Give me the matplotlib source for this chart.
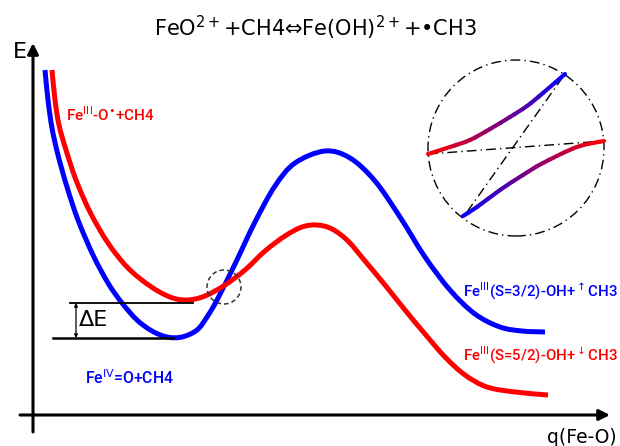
import numpy as np
import matplotlib
matplotlib.use("Agg")
import matplotlib.pyplot as plt
from matplotlib.patches import Circle, PathPatch
from matplotlib.path import Path
from matplotlib.collections import LineCollection
from matplotlib.colors import to_rgb

# ---- data (reaction coordinate q, energy E) ----
blue_q = [12, 15, 19, 25, 34, 45, 60, 75, 89, 104, 119, 134, 149, 164, 174, 184, 202, 222, 242,
          262, 292, 317, 342, 367, 392, 417, 442, 467, 489, 512]
blue_E = [345, 315, 287, 260, 228, 195, 160, 132, 112, 95, 84, 78, 78, 85, 98, 115, 151, 193,
          229, 252, 264, 257, 234, 198, 158, 125, 101, 88, 84, 83]

red_q = [19, 22, 26, 33, 43, 57, 75, 95, 117, 137, 154, 172, 192, 212, 232, 252, 269, 284,
         299, 315, 332, 352, 372, 392, 412, 432, 454, 482, 515]
red_E = [345, 315, 290, 265, 235, 203, 172, 147, 129, 118, 115, 119, 130, 145, 164, 179, 188,
         190, 186, 174, 154, 130, 105, 81, 58, 40, 28, 23, 20]

# inset (magnified crossing region)
inset_up_q = [395, 417, 437, 457, 477, 494, 510, 532]
inset_up_E = [261, 268, 275, 286, 298, 309, 322, 341]
inset_lo_q = [430, 444, 467, 490, 510, 544, 571]
inset_lo_E = [199, 208, 225, 240, 252, 268, 274]
inset_diab1_q = [395, 571]
inset_diab1_E = [261, 274]
inset_diab2_q = [434, 532]
inset_diab2_E = [203, 341]

E_min_red = 112
E_min_blue = 77

title = r"FeO$^{2+}$+CH4⇔Fe(OH)$^{2+}$+•CH3"
lab_red_left = r"Fe$^{\mathrm{III}}$-O$^{\bullet}$+CH4"
lab_blue_left = r"Fe$^{\mathrm{IV}}$=O+CH4"
lab_blue_right = r"Fe$^{\mathrm{III}}$(S=3/2)-OH+$^{\uparrow}$CH3"
lab_red_right = r"Fe$^{\mathrm{III}}$(S=5/2)-OH+$^{\downarrow}$CH3"

fig = plt.figure(figsize=(6.2, 4.46), dpi=100)
ax = fig.add_axes([0, 0, 1, 1])
ax.set_xlim(-33, 587)
ax.set_ylim(-31, 415)
ax.axis("off")

BLUE = "#0000ff"
RED = "#ff0000"
LABEL_FONT = ["Roboto", "DejaVu Sans"]


def smooth_path(xs, ys):
    """Catmull-Rom curve through the points, expressed as cubic Bezier path."""
    P = np.column_stack([xs, ys]).astype(float)
    Pe = np.vstack([P[0], P, P[-1]])
    verts = [P[0]]
    codes = [Path.MOVETO]
    for i in range(1, len(Pe) - 2):
        p0, p1, p2, p3 = Pe[i - 1], Pe[i], Pe[i + 1], Pe[i + 2]
        c1 = p1 + (p2 - p0) / 6.0
        c2 = p2 - (p3 - p1) / 6.0
        verts += [c1, c2, p2]
        codes += [Path.CURVE4] * 3
    return Path(verts, codes)


def smooth_curve(xs, ys, color, lw):
    ax.add_patch(PathPatch(smooth_path(xs, ys), fill=False, ec=color, lw=lw,
                           capstyle="butt", joinstyle="round"))


def gradient_curve(xs, ys, c0, c1, lw):
    poly = smooth_path(xs, ys).to_polygons(closed_only=False)[0]
    pts = poly.reshape(-1, 1, 2)
    segs = np.concatenate([pts[:-1], pts[1:]], axis=1)
    d = np.r_[0, np.cumsum(np.hypot(*np.diff(poly, axis=0).T))]
    t = (d[:-1] + d[1:]) / 2 / d[-1]
    a, b = np.array(to_rgb(c0)), np.array(to_rgb(c1))
    cols = [tuple(a + (b - a) * ti) for ti in t]
    ax.add_collection(LineCollection(segs, colors=cols, linewidths=lw,
                                     capstyle="round", joinstyle="round"))


# axes arrows
ax.annotate("", xy=(0, 372), xytext=(0, -17),
            arrowprops=dict(arrowstyle="-|>", lw=2.2, color="black", mutation_scale=16,
                            shrinkA=0, shrinkB=0))
ax.annotate("", xy=(577, 0), xytext=(-13, 0),
            arrowprops=dict(arrowstyle="-|>", lw=2.2, color="black", mutation_scale=16,
                            shrinkA=0, shrinkB=0))

# main curves
smooth_curve(blue_q, blue_E, BLUE, 3.6)
smooth_curve(red_q, red_E, RED, 3.6)

# Delta E markers
ax.plot([37, 160], [E_min_red, E_min_red], color="black", lw=1.3)
ax.plot([20, 140], [E_min_blue, E_min_blue], color="black", lw=1.8)
ax.annotate("", xy=(43, E_min_red), xytext=(43, E_min_blue),
            arrowprops=dict(arrowstyle="<|-|>", lw=0.9, color="black", mutation_scale=5,
                            shrinkA=0, shrinkB=0))
ax.text(60, (E_min_red + E_min_blue) / 2, "ΔE", fontsize=16, ha="center", va="center")

# small dashed circle at crossing
ax.add_patch(Circle((191, 128), 17, fill=False, ec="#333333", lw=1.1, ls=(0, (3, 2))))

# inset circle
ax.add_patch(Circle((483, 267), 88, fill=False, ec="black", lw=1.0,
                    ls=(0, (7, 3, 1, 3))))

ax.plot(inset_diab1_q, inset_diab1_E, color="black", lw=1.0, ls=(0, (7, 3, 1, 3)))
ax.plot(inset_diab2_q, inset_diab2_E, color="black", lw=1.0, ls=(0, (7, 3, 1, 3)))
gradient_curve(inset_up_q, inset_up_E, RED, BLUE, 3.0)
gradient_curve(inset_lo_q, inset_lo_E, BLUE, RED, 3.0)

# texts
ax.text(282, 387, title, fontsize=15, ha="center", va="center")
ax.text(-13, 363, "E", fontsize=16, ha="center", va="center")
ax.text(514, -28, "q(Fe-O)", fontsize=13.5, ha="left", va="baseline")
ax.text(33, 300, lab_red_left, fontsize=11, color=RED, ha="left", va="center",
        family=LABEL_FONT, weight="medium")
ax.text(52, 37, lab_blue_left, fontsize=11.3, color=BLUE, ha="left", va="center",
        family=LABEL_FONT, weight="medium")
ax.text(430, 124, lab_blue_right, fontsize=10.8, color=BLUE, ha="left", va="center",
        family=LABEL_FONT, weight="medium")
ax.text(430, 60, lab_red_right, fontsize=10.8, color=RED, ha="left", va="center",
        family=LABEL_FONT, weight="medium")

fig.savefig("out.png", dpi=100)
